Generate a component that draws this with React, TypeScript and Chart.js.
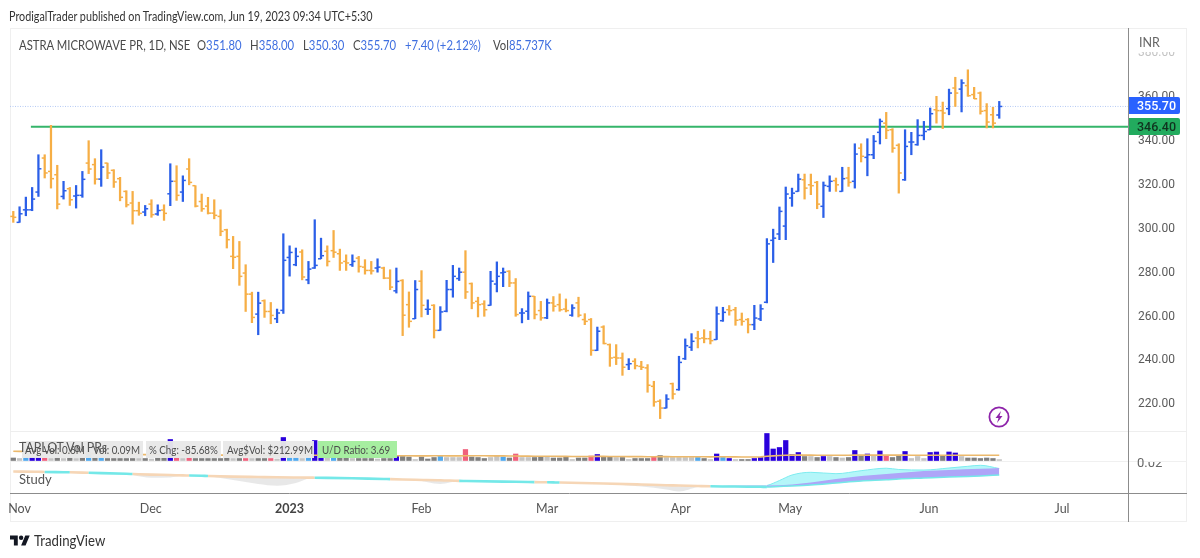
import { useEffect, useRef } from 'react';
import type { CSSProperties } from 'react';
import { Chart, registerables } from 'chart.js';

Chart.register(...registerables);

const FONT = 'Lato, "Noto Sans", sans-serif';
const AXIS_FONT = 'Roboto, Lato, sans-serif';
const BLUE = '#2b5fe8';
const ORANGE = '#f6ae45';
const LEGEND_BLUE = '#3f6fe0';

// daily bars
const opens = [
  305.6, 302.9, 308.6, 308.6, 316.7, 332.2, 326.1, 324.6, 314.7, 318.2,
  314.9, 315.2, 329.9, 329.2, 322.6, 329.9, 326.6, 322.8, 317.0, 311.7,
  308.2, 307.6, 311.2, 306.7, 308.5, 315.9, 321.6, 316.7, 327.2, 319.6,
  312.4, 310.3, 307.1, 305.6, 299.5, 287.4, 287.4, 279.8, 270.2, 261.1,
  267.2, 262.3, 259.0, 262.8, 286.9, 283.6, 289.4, 276.7, 282.1, 286.3,
  289.7, 290.0, 288.6, 285.1, 283.6, 286.6, 282.5, 281.0, 282.1, 282.1,
  277.5, 271.7, 276.4, 265.4, 259.0, 276.1, 263.3, 265.1, 253.7, 262.4,
  272.3, 277.3, 280.2, 275.0, 266.9, 265.7, 265.1, 274.8, 279.9, 280.6,
  275.3, 261.6, 262.4, 269.2, 262.7, 259.4, 266.2, 265.4, 263.4, 260.6,
  266.2, 258.6, 258.6, 244.6, 255.2, 247.2, 241.4, 241.1, 238.1, 239.6,
  237.3, 236.6, 228.2, 221.4, 218.3, 229.4, 226.7, 240.8, 246.0, 250.2,
  250.2, 249.9, 249.5, 258.1, 263.1, 263.1, 258.6, 258.6, 256.3, 258.9,
  266.5, 294.7, 297.6, 301.2, 314.0, 317.0, 322.3, 320.0, 321.1, 310.2,
  319.3, 321.9, 317.0, 323.1, 321.6, 336.7, 332.5, 333.7, 343.9, 348.1,
  345.1, 338.0, 322.3, 339.5, 338.3, 342.5, 345.1, 354.2, 353.8, 354.7,
  364.1, 363.6, 365.2, 361.1, 361.8, 353.8, 351.9, 351.8,
];
const highs = [
  307.9, 310.0, 314.4, 318.8, 333.7, 333.7, 347.1, 328.9, 321.6, 318.8,
  319.7, 326.1, 340.1, 331.9, 336.0, 329.9, 326.9, 323.4, 317.3, 317.0,
  312.1, 310.6, 313.2, 310.9, 310.9, 329.6, 328.7, 324.1, 331.9, 319.6,
  315.8, 314.3, 313.2, 308.6, 299.8, 296.5, 294.2, 283.6, 271.1, 271.1,
  267.6, 266.4, 263.4, 297.7, 292.2, 291.2, 290.4, 285.1, 304.1, 295.7,
  292.2, 299.2, 290.7, 288.1, 288.1, 287.4, 285.9, 285.1, 286.3, 282.5,
  281.3, 282.1, 276.8, 271.2, 276.4, 280.9, 267.6, 265.4, 264.5, 276.5,
  283.3, 282.1, 290.0, 275.3, 268.8, 267.2, 280.6, 284.9, 282.1, 280.9,
  277.3, 263.6, 271.2, 269.2, 266.9, 268.0, 269.1, 270.3, 268.0, 265.4,
  268.8, 261.3, 259.1, 255.2, 255.8, 247.5, 247.2, 243.4, 240.8, 240.8,
  239.6, 238.1, 230.5, 222.1, 224.4, 229.7, 241.9, 249.8, 252.2, 253.3,
  254.0, 253.3, 264.4, 264.2, 265.0, 264.2, 261.6, 259.1, 265.1, 265.4,
  295.5, 299.8, 309.9, 319.0, 318.5, 324.9, 324.9, 324.9, 321.6, 321.3,
  324.1, 323.1, 328.0, 328.0, 338.7, 338.7, 341.0, 342.5, 350.0, 353.0,
  345.6, 338.7, 345.1, 343.9, 349.7, 348.9, 355.0, 360.3, 357.7, 363.6,
  369.0, 367.9, 372.4, 364.4, 362.3, 357.0, 355.3, 358.0,
];
const lows = [
  302.9, 302.9, 305.9, 308.2, 314.7, 323.1, 318.5, 309.0, 313.5, 310.6,
  309.4, 314.3, 325.1, 320.3, 319.3, 322.8, 318.8, 312.7, 309.9, 302.1,
  306.1, 305.9, 305.2, 306.1, 303.8, 310.5, 312.9, 312.4, 320.0, 309.9,
  307.9, 306.7, 304.5, 296.8, 291.2, 281.8, 274.2, 262.3, 257.2, 251.7,
  259.6, 256.7, 257.2, 261.4, 278.4, 283.1, 276.7, 274.9, 281.9, 286.3,
  283.0, 286.9, 281.0, 281.0, 282.8, 280.2, 279.3, 279.3, 280.2, 277.2,
  272.2, 270.7, 251.3, 255.1, 259.0, 259.8, 260.9, 250.2, 253.7, 262.1,
  268.8, 276.4, 268.2, 263.5, 259.8, 260.1, 265.1, 271.2, 273.6, 273.6,
  260.1, 257.1, 258.6, 258.9, 258.3, 259.0, 262.4, 262.4, 262.1, 260.1,
  259.8, 256.3, 242.3, 244.5, 247.5, 237.3, 238.1, 233.2, 235.8, 236.1,
  235.8, 225.5, 219.1, 213.5, 218.3, 222.4, 226.4, 240.4, 244.5, 245.7,
  248.0, 247.5, 249.5, 257.8, 260.6, 256.0, 256.0, 252.5, 254.0, 258.1,
  266.2, 284.6, 295.0, 295.0, 310.2, 317.0, 313.5, 315.5, 309.1, 305.1,
  317.0, 317.0, 317.0, 319.3, 318.5, 330.4, 324.1, 331.9, 338.6, 341.0,
  334.8, 316.2, 322.0, 333.7, 338.0, 340.5, 345.1, 348.1, 345.6, 351.9,
  355.7, 353.2, 360.3, 359.2, 352.2, 345.9, 345.9, 350.3,
];
const closes = [
  305.2, 306.8, 308.6, 313.5, 327.3, 325.4, 322.8, 311.2, 317.3, 313.2,
  315.2, 322.5, 327.2, 322.6, 328.1, 325.4, 321.3, 314.3, 310.9, 308.2,
  307.0, 309.1, 306.4, 308.3, 307.0, 321.6, 315.2, 322.0, 321.1, 310.3,
  309.1, 307.1, 306.1, 298.8, 295.0, 287.0, 278.3, 270.2, 259.6, 266.1,
  262.3, 260.5, 261.6, 285.6, 289.2, 287.4, 278.0, 281.6, 283.3, 287.7,
  285.1, 289.3, 284.4, 284.4, 285.1, 282.8, 281.0, 280.8, 282.5, 277.5,
  273.4, 276.0, 260.6, 257.8, 272.3, 265.1, 263.3, 253.7, 262.1, 272.3,
  278.3, 280.2, 271.2, 266.2, 265.4, 263.1, 276.1, 278.3, 280.2, 275.3,
  260.9, 261.6, 269.2, 260.9, 259.4, 266.2, 264.7, 263.1, 262.7, 263.9,
  260.6, 257.8, 244.6, 253.3, 247.7, 241.1, 241.1, 236.9, 238.5, 237.6,
  236.9, 228.7, 221.1, 218.3, 222.4, 224.7, 239.1, 246.7, 248.7, 249.9,
  249.9, 249.0, 261.2, 261.9, 262.7, 258.3, 257.8, 256.3, 259.3, 263.5,
  293.1, 295.7, 307.9, 315.8, 316.2, 322.6, 318.5, 319.6, 311.2, 319.7,
  321.6, 320.0, 322.8, 321.1, 334.0, 333.0, 333.7, 339.8, 348.9, 344.8,
  336.7, 325.4, 337.5, 339.5, 342.5, 344.3, 352.4, 353.8, 352.7, 361.8,
  361.8, 366.4, 360.6, 359.2, 353.5, 348.6, 348.1, 355.7,
];

// TAPLOT volume panel, in millions
const volumes = [
  0.25, 0.2, 0.25, 0.3, 0.3, 0.25, 0.2, 0.25, 0.2, 0.25,
  0.2, 0.25, 0.85, 0.25, 0.25, 0.2, 0.2, 0.2, 0.2, 0.2,
  0.2, 0.2, 0.15, 0.25, 0.25, 2.1, 0.25, 0.2, 0.25, 0.2,
  0.2, 0.2, 0.2, 0.2, 0.25, 0.2, 0.2, 0.2, 0.2, 0.2,
  0.2, 0.2, 0.15, 2.3, 0.3, 0.3, 0.2, 0.3, 2.0, 0.4,
  0.25, 0.3, 0.25, 0.25, 0.2, 0.2, 0.2, 0.2, 0.15, 0.2,
  0.2, 0.45, 0.4, 0.35, 0.1, 0.35, 0.15, 0.3, 0.4, 0.3,
  0.3, 0.3, 1.1, 0.35, 0.3, 0.2, 0.3, 0.45, 0.35, 0.25,
  0.65, 0.3, 0.3, 0.3, 0.4, 0.35, 0.25, 0.25, 0.4, 0.1,
  0.25, 0.25, 0.45, 0.6, 0.35, 0.35, 0.3, 0.3, 0.1, 0.2,
  0.2, 0.2, 0.35, 0.5, 0.3, 0.3, 0.3, 0.3, 0.3, 0.3,
  0.2, 0.1, 0.65, 0.3, 0.2, 0.1, 0.1, 0.1, 0.2, 0.3,
  2.7, 1.15, 1.3, 2.0, 0.6, 0.8, 0.4, 0.4, 0.3, 0.4,
  0.4, 0.3, 0.25, 0.3, 1.0, 0.45, 0.65, 0.45, 0.95, 0.45,
  0.3, 0.45, 0.9, 0.2, 0.4, 0.2, 0.8, 0.85, 0.5, 0.85,
  0.75, 0.4, 0.25, 0.25, 0.2, 0.25, 0.2, 0.09,
];
// g dark gray, l light gray, b high volume up, s sky, p pink
const volumeKinds = [
  'g', 'l', 's', 'b', 'b', 'p', 'l', 'g', 'l', 'g',
  'l', 'g', 's', 'g', 's', 'g', 'g', 'g', 'g', 'g',
  'l', 'g', 'l', 'g', 'g', 'b', 'p', 'l', 'p', 'g',
  'g', 'g', 'g', 'g', 'g', 'l', 'g', 'p', 'l', 'g',
  'g', 'p', 'l', 'b', 's', 's', 'l', 's', 'b', 'b',
  'l', 's', 'g', 'g', 'l', 'g', 'g', 'g', 'l', 'g',
  'g', 'b', 'g', 'g', 'l', 'g', 'g', 'g', 's', 'l',
  'l', 'l', 'p', 'g', 'g', 'g', 'l', 'l', 's', 'g',
  'p', 'l', 'l', 'g', 'g', 'l', 'g', 'g', 'g', 'l',
  'g', 'g', 'p', 'b', 'g', 'g', 'l', 'g', 'l', 'g',
  'g', 'g', 'p', 'g', 'l', 'l', 'l', 'l', 'l', 's',
  'g', 'l', 'b', 's', 'b', 'l', 'g', 'g', 'b', 'b',
  'b', 'b', 'b', 'b', 'b', 'b', 'g', 'l', 'g', 'b',
  'l', 'g', 'l', 'g', 'b', 'g', 'b', 'l', 'b', 'p',
  'g', 'g', 'b', 'l', 'l', 'l', 'b', 'b', 'g', 'b',
  'b', 'l', 'g', 'g', 'g', 'g', 'g', 'l',
];
const volumeAverage = [
  0.92, 0.91, 0.9, 0.88, 0.86, 0.84, 0.82, 0.8, 0.78, 0.76,
  0.74, 0.72, 0.71, 0.69, 0.67, 0.66, 0.64, 0.63, 0.62, 0.6,
  0.6, 0.59, 0.58, 0.58, 0.57, 0.58, 0.57, 0.56, 0.56, 0.55,
  0.55, 0.55, 0.54, 0.54, 0.54, 0.53, 0.53, 0.53, 0.52, 0.52,
  0.52, 0.51, 0.51, 0.53, 0.53, 0.52, 0.52, 0.51, 0.53, 0.53,
  0.52, 0.51, 0.5, 0.5, 0.49, 0.49, 0.48, 0.48, 0.47, 0.47,
  0.47, 0.47, 0.47, 0.47, 0.46, 0.46, 0.46, 0.47, 0.47, 0.46,
  0.46, 0.46, 0.48, 0.48, 0.47, 0.47, 0.46, 0.46, 0.46, 0.45,
  0.45, 0.44, 0.44, 0.43, 0.43, 0.42, 0.42, 0.41, 0.41, 0.4,
  0.4, 0.4, 0.4, 0.41, 0.41, 0.4, 0.4, 0.4, 0.39, 0.39,
  0.39, 0.38, 0.38, 0.39, 0.39, 0.38, 0.38, 0.38, 0.38, 0.37,
  0.37, 0.36, 0.37, 0.37, 0.36, 0.36, 0.35, 0.35, 0.35, 0.36,
  0.42, 0.46, 0.5, 0.53, 0.54, 0.54, 0.54, 0.54, 0.53, 0.53,
  0.53, 0.53, 0.53, 0.53, 0.54, 0.54, 0.54, 0.54, 0.54, 0.54,
  0.54, 0.54, 0.54, 0.53, 0.53, 0.53, 0.53, 0.53, 0.53, 0.53,
  0.53, 0.53, 0.53, 0.53, 0.53, 0.53, 0.53, 0.53,
];

// Study panel, taken at the bars where the curves turn
const studyBars = [
  1, 5, 6, 9, 10, 13, 19, 20, 23, 26, 28, 29, 31, 32, 36, 40, 43, 46, 48, 49,
  55, 60, 61, 65, 69, 72, 73, 79, 83, 84, 86, 87, 88, 95, 101, 105, 107, 110,
  112, 115, 118, 120, 121, 123, 125, 128, 132, 136, 140, 142, 146, 150, 153, 155, 158,
];
const studySlow = [
  0.0105, 0.0102, 0.01, 0.0098, 0.0097, 0.0092, 0.0082, 0.008, 0.0074, 0.007,
  0.0066, 0.0065, 0.0062, 0.006, 0.0054, 0.005, 0.0047, 0.0045, 0.0044, 0.0043,
  0.0037, 0.003, 0.0029, 0.0022, 0.0018, 0.0011, 0.001, 0.0004, 0, -0.0001,
  -0.0003, -0.0004, -0.0005, -0.0015, -0.0025, -0.0032, -0.0035, -0.004,
  -0.0043, -0.0045, -0.0047, -0.0048, -0.005, -0.0045, -0.004, -0.003, -0.001,
  0.001, 0.0022, 0.003, 0.004, 0.005, 0.0055, 0.006, 0.007,
];
const studyFast = [
  0.01, 0.01, 0.0102, 0.0101, 0.0094, 0.0094, 0.0084, 0.007, 0.0043, 0.0045,
  0.0064, 0.0067, 0.0064, 0.0058, 0.002, -0.002, -0.0037, -0.001, 0.0035, 0.0045,
  0.004, 0.0032, 0.0027, 0.002, -0.002, 0.0012, 0.0013, 0.0007, 0.0003, -0.0004,
  -0.0002, -0.0003, -0.0006, -0.0017, -0.0045, -0.0075, -0.0095, -0.005,
  -0.004, -0.0042, -0.0044, -0.004, -0.0035, 0.0015, 0.007, 0.0097, 0.0083,
  0.0113, 0.0138, 0.0125, 0.012, 0.014, 0.0157, 0.0167, 0.0135,
];
const studyMidBars = [112, 118, 121, 125, 128, 132, 136, 140, 146, 150, 155, 158];
const studyMid = [-0.0043, -0.0035, -0.0035, -0.0025, -0.0005, 0.003, 0.006, 0.008, 0.011, 0.012, 0.0132, 0.014];

const priceTicks = [220, 240, 260, 280, 300, 320, 340, 360, 380];
const monthBars = [2, 22.9, 45, 66, 86, 107.3, 124.7, 146.8, 168];
const monthLabels = ['Nov', 'Dec', '2023', 'Feb', 'Mar', 'Apr', 'May', 'Jun', 'Jul'];

const lastPrice = 355.7;
const linePrice = 346.4;
const lineStartBar = 3.8;

const xMin = 0.475;
const xMax = 178.5;

const volumeColors: Record<string, string> = {
  g: '#7f7f7f',
  l: '#c4c4c4',
  b: '#2a00dc',
  s: '#4fa8ee',
  p: '#f0607c',
};

const abs = (x: number, y: number, extra: CSSProperties = {}): CSSProperties => ({
  position: 'absolute',
  left: x,
  top: y,
  whiteSpace: 'nowrap',
  ...extra,
});

// Lato runs wider than the chart's own font, so the texts get squeezed a bit
const squeezed = (factor: number): CSSProperties => ({
  transform: `scaleX(${factor})`,
  transformOrigin: 'left center',
});

function PriceChart() {
  const canvasRef = useRef<HTMLCanvasElement>(null);

  useEffect(() => {
    if (!canvasRef.current) return;

    const bars = opens.map((_, i) => i + 1);
    const barColors = bars.map((_, i) => (closes[i] >= opens[i] ? BLUE : ORANGE));
    const SLOW_INDEX = 7;

    const tickMark = (values: number[], rotation: number) => ({
      type: 'line' as const,
      data: bars.map((b, i) => ({ x: b, y: values[i] })),
      showLine: false,
      pointStyle: 'dash',
      pointRotation: rotation,
      pointRadius: 3,
      pointHoverRadius: 3,
      pointBorderWidth: 1.5,
      pointBorderColor: barColors,
      yAxisID: 'y',
    });

    const chart = new Chart(canvasRef.current, {
      type: 'bar',
      data: {
        datasets: [
          {
            type: 'bar',
            data: bars.map((b, i) => ({ x: b, y: [lows[i], highs[i]] })),
            backgroundColor: barColors,
            barThickness: 1.6,
            grouped: false,
            yAxisID: 'y',
          },
          tickMark(opens, 180),
          tickMark(closes, 0),
          {
            type: 'line',
            data: [{ x: lineStartBar, y: linePrice }, { x: xMax, y: linePrice }],
            borderColor: '#35b56a',
            borderWidth: 2,
            pointRadius: 0,
            yAxisID: 'y',
          },
          {
            type: 'line',
            data: [{ x: xMin, y: lastPrice }, { x: xMax, y: lastPrice }],
            borderColor: '#b4c9f4',
            borderWidth: 1,
            borderDash: [1, 1.5],
            pointRadius: 0,
            yAxisID: 'y',
          },
          {
            type: 'line',
            data: bars.map((b, i) => ({ x: b, y: volumeAverage[i] })),
            borderColor: '#ecb96c',
            borderWidth: 1.6,
            pointRadius: 0,
            yAxisID: 'yVol',
          },
          {
            type: 'bar',
            data: bars.map((b, i) => ({ x: b, y: volumes[i] })),
            backgroundColor: volumeKinds.map((k) => volumeColors[k]),
            barThickness: 4.6,
            grouped: false,
            yAxisID: 'yVol',
          },
          {
            type: 'line',
            data: studyBars.map((b, i) => ({ x: b, y: studySlow[i] })),
            borderColor: '#f6d6b6',
            borderWidth: 2.6,
            pointRadius: 0,
            cubicInterpolationMode: 'monotone',
            segment: {
              borderColor: (ctx: any) =>
                studyFast[ctx.p0DataIndex] > studySlow[ctx.p0DataIndex] ? '#74e8e8' : '#f6d6b6',
              borderWidth: (ctx: any) => (studyBars[ctx.p0DataIndex] >= 121 ? 1.5 : 2.6),
            },
            yAxisID: 'yStudy',
          },
          {
            type: 'line',
            data: studyMidBars.map((b, i) => ({ x: b, y: studyMid[i] })),
            borderWidth: 0,
            pointRadius: 0,
            cubicInterpolationMode: 'monotone',
            fill: { target: SLOW_INDEX, above: '#aea5f8', below: '#aea5f8' },
            yAxisID: 'yStudy',
          },
          {
            type: 'line',
            data: studyBars.map((b, i) => ({ x: b, y: studyFast[i] })),
            borderColor: '#7decef',
            borderWidth: 1,
            pointRadius: 0,
            cubicInterpolationMode: 'monotone',
            segment: {
              borderColor: (ctx: any) => (studyBars[ctx.p0DataIndex] >= 121 ? '#7decef' : 'transparent'),
            },
            fill: { target: SLOW_INDEX, above: 'rgba(130,240,245,0.6)', below: 'rgba(205,205,205,0.45)' },
            yAxisID: 'yStudy',
          },
        ],
      } as any,
      options: {
        responsive: false,
        animation: false,
        layout: { padding: { left: 10, top: 28, right: 13, bottom: 36 } },
        plugins: { legend: { display: false }, tooltip: { enabled: false } },
        scales: {
          x: {
            type: 'linear',
            min: xMin,
            max: xMax,
            offset: false,
            grid: { display: false },
            border: { color: '#8c8c8c', width: 1 },
            afterBuildTicks: (scale: any) => {
              scale.ticks = monthBars.map((value) => ({ value }));
            },
            afterFit: (scale: any) => {
              scale.height = 29;
            },
            ticks: {
              autoSkip: false,
              maxRotation: 0,
              padding: 0,
              color: (ctx: any) => (ctx.index === 2 ? '#444' : '#555'),
              font: (ctx: any) => ({ family: FONT, size: 12.5, weight: ctx.index === 2 ? 'bold' : 'normal' }),
              callback: (_v: any, i: number) => monthLabels[i],
            },
          },
          y: {
            type: 'linear',
            position: 'right',
            min: 179.6,
            max: 391.44,
            grid: { display: false },
            border: { color: '#8c8c8c', width: 1 },
            afterBuildTicks: (scale: any) => {
              scale.ticks = priceTicks.map((value) => ({ value }));
            },
            afterFit: (scale: any) => {
              scale.width = 59;
            },
            ticks: {
              autoSkip: false,
              padding: 2,
              color: (ctx: any) => (ctx.tick.value === 380 ? '#c4c4c4' : '#5a5a5a'),
              font: { family: AXIS_FONT, size: 12 },
              callback: (v: any) => Number(v).toFixed(2),
            },
          },
          yVol: { type: 'linear', display: false, min: -3.25, max: 43.25 },
          yStudy: { type: 'linear', display: false, min: -0.011, max: 0.454 },
        },
      },
    } as any);

    return () => {
      chart.destroy();
    };
  }, []);

  return <canvas ref={canvasRef} width={1200} height={558} style={{ position: 'absolute', left: 0, top: 0 }} />;
}

export default function App() {
  const legendValue: CSSProperties = { color: LEGEND_BLUE };
  const legendText: CSSProperties = { fontSize: 13, color: '#4a4a4a', lineHeight: '16px', ...squeezed(0.87) };
  const boxText: CSSProperties = { fontSize: 11.5, color: '#4c4c4c', lineHeight: '17px', ...squeezed(0.85) };
  const priceLabel: CSSProperties = {
    width: 51,
    height: 17,
    borderRadius: '0 2px 2px 0',
    fontFamily: AXIS_FONT,
    fontSize: 12.5,
    fontWeight: 500,
    lineHeight: '17px',
    paddingLeft: 8,
    boxSizing: 'border-box',
  };

  return (
    <div style={{ position: 'absolute', left: 0, top: 0, width: 1200, height: 558, background: '#fff', fontFamily: FONT, overflow: 'hidden' }}>
      {/* frame and pane lines */}
      <div style={abs(10, 28, { width: 1177, height: 494, border: '1px solid #efefef', boxSizing: 'border-box' })} />
      <div style={abs(10, 431, { width: 1177, height: 1, background: '#eeeeee' })} />
      <div style={abs(10, 461, { width: 1177, height: 1, background: '#f0f0f0' })} />
      <div style={abs(1128, 493, { width: 1, height: 29, background: '#8c8c8c' })} />
      <div style={abs(1128, 493, { width: 59, height: 1, background: '#8c8c8c' })} />

      <PriceChart />

      <div style={abs(9, 8, { fontSize: 13, color: '#333', lineHeight: '16px', ...squeezed(0.83) })}>
        ProdigalTrader published on TradingView.com, Jun 19, 2023 09:34 UTC+5:30
      </div>

      <div style={abs(19, 37, legendText)}>ASTRA MICROWAVE PR, 1D, NSE</div>
      <div style={abs(197, 37, legendText)}>
        O<span style={legendValue}>351.80</span>
      </div>
      <div style={abs(250, 37, legendText)}>
        H<span style={legendValue}>358.00</span>
      </div>
      <div style={abs(303, 37, legendText)}>
        L<span style={legendValue}>350.30</span>
      </div>
      <div style={abs(353, 37, legendText)}>
        C<span style={legendValue}>355.70</span>
      </div>
      <div style={abs(405, 37, { ...legendText, ...legendValue })}>+7.40 (+2.12%)</div>
      <div style={abs(493, 37, legendText)}>
        Vol<span style={legendValue}>85.737K</span>
      </div>

      {/* the INR corner hides the top of the 380 tick */}
      <div style={abs(1130, 34, { width: 56, height: 18, background: '#fff' })} />
      <div style={abs(1139, 35, { fontSize: 12.5, color: '#666', lineHeight: '15px' })}>INR</div>

      {/* price labels on the right axis */}
      <div style={abs(1129, 97, { ...priceLabel, background: '#2962ff', color: '#fff' })}>355.70</div>
      <div style={abs(1129, 118, { ...priceLabel, background: '#22ab5e', color: '#10331f' })}>346.40</div>

      {/* TAPLOT summary boxes */}
      <div style={abs(22, 441, { width: 121, height: 17, background: 'rgba(232,232,232,0.96)' })} />
      <div style={abs(146, 441, { width: 75, height: 17, background: 'rgba(232,232,232,0.96)' })} />
      <div style={abs(223, 441, { width: 91, height: 17, background: 'rgba(232,232,232,0.96)' })} />
      <div style={abs(318, 441, { width: 79, height: 17, background: '#a6eea0' })} />
      <div style={abs(25, 441, boxText)}>Avg Vol: 0.6M</div>
      <div style={abs(93, 441, boxText)}>Vol: 0.09M</div>
      <div style={abs(149, 441, boxText)}>% Chg: -85.68%</div>
      <div style={abs(227, 441, boxText)}>Avg$Vol: $212.99M</div>
      <div style={abs(322, 441, boxText)}>U/D Ratio: 3.69</div>
      <div style={abs(19, 439, { fontSize: 13, color: '#555', lineHeight: '16px', ...squeezed(0.95) })}>TAPLOT Vol PRs</div>
      <div style={abs(19, 471, { fontSize: 13, color: '#555', lineHeight: '16px' })}>Study</div>

      <div style={abs(1137, 455, { fontFamily: AXIS_FONT, fontSize: 13, color: '#666', lineHeight: '16px', clipPath: 'polygon(0 0, 10px 0, 10px 7px, 100% 7px, 100% 100%, 0 100%)' })}>
        0.02
      </div>

      {/* bolt marker */}
      <svg style={abs(988, 406)} width={22} height={22} viewBox="0 0 22 22">
        <circle cx={11} cy={11} r={9.6} fill="#fff" stroke="#8e24aa" strokeWidth={1.8} />
        <path d="M13 5 L7.5 12 H10.5 L9 17 L14.5 10 H11.5 Z" fill="#8e24aa" />
      </svg>

      {/* footer logo */}
      <svg style={abs(10, 533)} width={20} height={15} viewBox="0 0 36 26">
        <path d="M14 22H7V11H0V4h14v18zM28 22h-8l7.5-18h8L28 22z" fill="#131722" />
        <circle cx={20} cy={8} r={4} fill="#131722" />
      </svg>
      <div style={abs(34, 531, { fontSize: 15, color: '#333', lineHeight: '18px', ...squeezed(0.88) })}>TradingView</div>
    </div>
  );
}
